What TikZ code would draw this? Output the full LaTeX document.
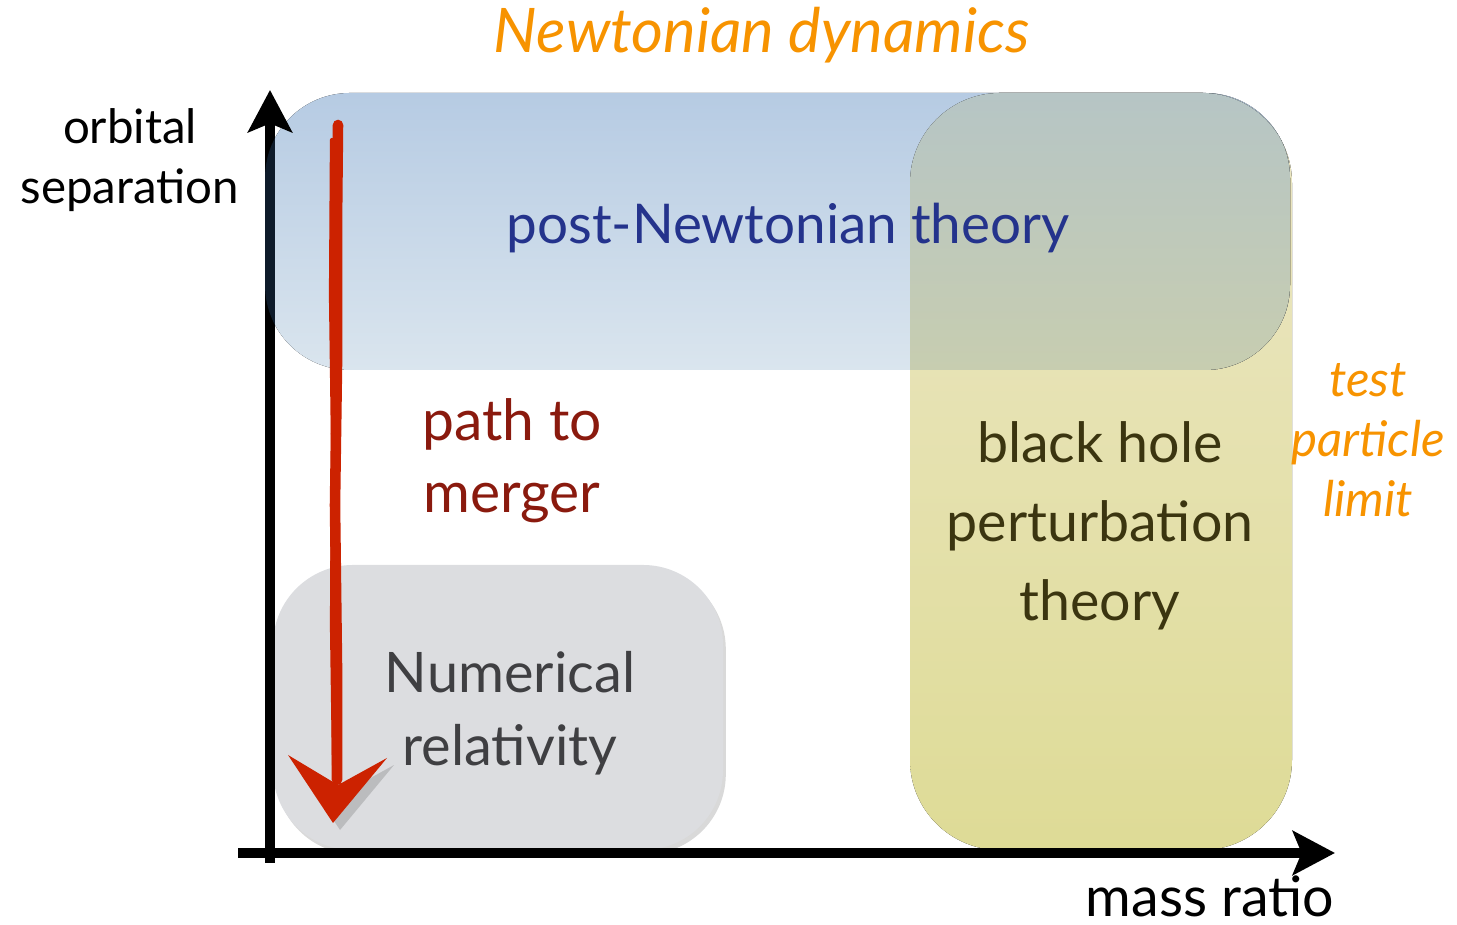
\documentclass[tikz,border=0pt]{standalone}
\usepackage{fontspec}
\setmainfont{Lato}
\usetikzlibrary{arrows.meta,shadows}
\definecolor{orng}{HTML}{F79300}
\definecolor{pnblue}{HTML}{24338C}
\definecolor{pathred}{HTML}{8A1A0E}
\definecolor{nrgrey}{HTML}{3F3F42}
\definecolor{bholive}{HTML}{3B3510}
\definecolor{pntop}{HTML}{B6CBE3}
\definecolor{pnbot}{HTML}{DAE5EE}
\definecolor{ybtop}{HTML}{ECE7C6}
\definecolor{ybbot}{HTML}{DEDB96}
\definecolor{ovtop}{HTML}{B6C5C5}
\definecolor{ovbot}{HTML}{C7CDB0}
\definecolor{nrfill}{HTML}{DCDDE0}
\definecolor{redarr}{HTML}{CC2200}
\definecolor{axnavy}{HTML}{0E1B2A}
\begin{document}
\begin{tikzpicture}[line join=round, line cap=round, >={Stealth[length=12pt,width=12.5pt,inset=2.5pt]},
  axis/.style={line width=2.85pt, line cap=butt, ->},
  pnbox/.style={rounded corners=0.85cm},
  ybox/.style={rounded corners=0.9cm},
  lbl/.style={align=center, inner sep=0pt}]
\useasboundingbox (0,0) rectangle (14.57,9.25);
\path (2.70,0.62) coordinate (O) (2.70,8.35) coordinate (Y) (2.38,0.72) coordinate (X0) (13.35,0.72) coordinate (X);
% regions
\fill[ybox, top color=ybtop, bottom color=ybbot] (9.10,0.75) rectangle (12.92,8.32);
\fill[pnbox, top color=pntop, bottom color=pnbot] (2.65,5.55) rectangle (12.90,8.32);
\begin{scope}
\clip[ybox] (9.10,0.75) rectangle (12.92,8.32);
\fill[pnbox, top color=ovtop, bottom color=ovbot] (2.65,5.55) rectangle (12.90,8.32);
\end{scope}
\fill[rounded corners=0.8cm, nrfill, drop shadow={opacity=0.3, shadow xshift=0.8pt, shadow yshift=-1.2pt}] (2.73,0.75) rectangle (7.23,3.60);
% axes
\draw[axis] (O)--(Y);
\draw[axis] (X0)--(X);
\begin{scope}
\clip[pnbox] (2.65,5.55) rectangle (12.90,8.32);
\draw[axnavy, line width=2.85pt, line cap=butt] (O)--(2.70,8.0);
\end{scope}
% path to merger
\draw[redarr, line width=3pt] (3.38,8.00)--(3.37,7.0)--(3.37,5.6)--(3.35,4.2)--(3.37,2.6)--(3.37,1.45);
\draw[redarr, line width=1.2pt] (3.32,7.85)--(3.31,6.3)--(3.33,4.8)--(3.32,3.0)--(3.34,1.6);
\fill[redarr, drop shadow={opacity=0.35, shadow xshift=2pt, shadow yshift=-2pt}] (2.88,1.70)--(3.33,1.02)--(3.87,1.67)--(3.38,1.40)--cycle;
% labels
\node[lbl, text=orng, font=\fontsize{17.5}{20}\selectfont\itshape] (title) at (7.62,8.90) {Newtonian dynamics};
\node[lbl, font=\fontsize{13.5}{17}\selectfont] (ylab) at (1.30,7.65) {orbital\\separation};
\node[lbl, font=\fontsize{15.8}{18}\selectfont] (xlab) at (12.10,0.29) {mass ratio};
\node[lbl, text=pnblue, font=\fontsize{15.6}{20}\selectfont] (pn) at (7.88,6.97) {post-Newtonian theory};
\node[lbl, text=pathred, font=\fontsize{16.2}{20.5}\selectfont] (path) at (5.12,4.64) {path to\\merger};
\node[lbl, text=nrgrey, font=\fontsize{15.9}{20.8}\selectfont] (nr) at (5.10,2.12) {Numerical\\relativity};
\node[lbl, text=bholive, font=\fontsize{15.8}{22.5}\selectfont] (bh) at (11.00,3.99) {black hole\\perturbation\\theory};
\node[lbl, text=orng, font=\fontsize{14}{17}\selectfont\itshape] (tp) at (13.68,4.85) {test\\particle\\limit};
\end{tikzpicture}
\end{document}
